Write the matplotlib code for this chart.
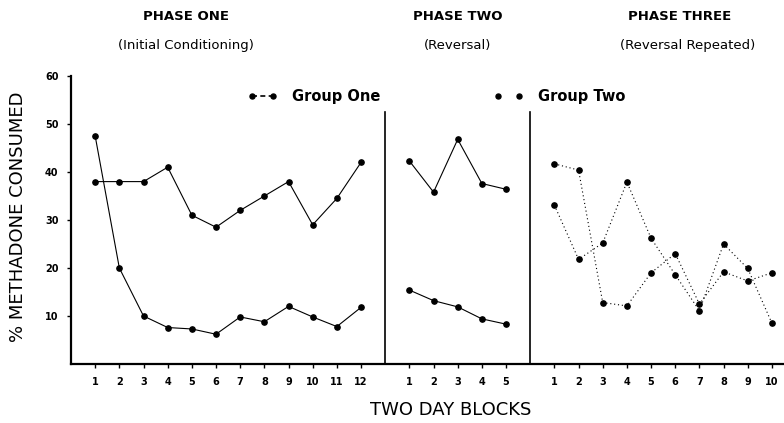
import numpy as np
import matplotlib.pyplot as plt
from matplotlib.lines import Line2D

# % methadone consumed per two-day block
phase1_blocks = np.arange(1, 13)
phase2_blocks = np.arange(1, 6)
phase3_blocks = np.arange(1, 11)

phase1_group_one = [38, 38, 38, 41, 31, 28.5, 32, 35, 38, 29, 34.5, 42]
phase1_group_two = [47.5, 20, 10, 7.6, 7.3, 6.2, 9.8, 8.8, 12, 9.8, 7.8, 11.8]
phase2_group_one = [42.3, 35.8, 46.8, 37.6, 36.4]
phase2_group_two = [15.4, 13.2, 11.9, 9.4, 8.3]
phase3_group_one = [41.7, 40.4, 12.8, 12.1, 19.0, 23.0, 12.5, 19.2, 17.3, 19.0]
phase3_group_two = [33.1, 21.8, 25.2, 37.9, 26.2, 18.6, 11.1, 25.0, 19.9, 8.5]

phase_titles = ["PHASE ONE", "PHASE TWO", "PHASE THREE"]
phase_subtitles = ["(Initial Conditioning)", "(Reversal)", "(Reversal Repeated)"]

# x layout: phases side by side, one empty slot for each divider
x1 = phase1_blocks
x2 = phase2_blocks + len(phase1_blocks) + 1
x3 = phase3_blocks + len(phase1_blocks) + len(phase2_blocks) + 2
dividers = [len(phase1_blocks) + 1, len(phase1_blocks) + len(phase2_blocks) + 2]

fig = plt.figure(figsize=(7.84, 4.23), dpi=100)
ax = fig.add_axes([71 / 784, 1 - 364 / 423, 713 / 784, 288 / 423])

mk = dict(color='k', marker='o', markersize=3.8, linewidth=0.8)
ax.plot(x1, phase1_group_one, linestyle='-', **mk)
ax.plot(x1, phase1_group_two, linestyle='-', **mk)
ax.plot(x2, phase2_group_one, linestyle='-', **mk)
ax.plot(x2, phase2_group_two, linestyle='-', **mk)
ax.plot(x3, phase3_group_one, linestyle=(0, (1, 2.5)), **mk)
ax.plot(x3, phase3_group_two, linestyle=(0, (1, 2.5)), **mk)

for d in dividers:
    ax.plot([d, d], [0, 52.5], color='k', linewidth=1.2)

ax.set_xlim(0, 29.5)
ax.set_ylim(0, 60)
ax.spines['top'].set_visible(False)
ax.spines['right'].set_visible(False)
ax.spines['left'].set_linewidth(1.6)
ax.spines['bottom'].set_linewidth(1.6)

ax.set_yticks([10, 20, 30, 40, 50, 60])
ax.set_yticklabels(['10', '20', '30', '40', '50', '60'], fontsize=7, fontweight='bold')
ticks = np.concatenate([x1, x2, x3])
labels = [str(b) for b in np.concatenate([phase1_blocks, phase2_blocks, phase3_blocks])]
ax.set_xticks(ticks)
ax.set_xticklabels(labels, fontsize=7, fontweight='bold')
ax.tick_params(axis='both', length=3, width=1.0, pad=6)

ax.set_ylabel("% METHADONE CONSUMED", fontsize=13)
ax.yaxis.set_label_coords(-0.062, 0.51)
ax.set_xlabel("TWO DAY BLOCKS", fontsize=13)
ax.xaxis.set_label_coords(0.532, -0.128)

# phase headings
title_x = [186, 458, 680]
sub_x = [186, 458, 688]
for t, s, tx, sx in zip(phase_titles, phase_subtitles, title_x, sub_x):
    fig.text(tx / 784, 1 - 17 / 423, t, ha='center', va='center', fontsize=9.5, fontweight='bold')
    fig.text(sx / 784, 1 - 45 / 423, s, ha='center', va='center', fontsize=9.5)

handles = [
    Line2D([], [], color='k', marker='o', markersize=3.6, linestyle=(0, (3, 2)), linewidth=1.2),
    Line2D([], [], color='k', marker='o', markersize=3.6, linestyle='none'),
]
fig.legend(handles, ["Group One", "Group Two"], loc='center left',
           bbox_to_anchor=(248 / 784, 1 - 97 / 423), ncol=2, frameon=False,
           numpoints=2, handlelength=2.0, handletextpad=1.0, columnspacing=7.8,
           borderpad=0, borderaxespad=0, prop={'size': 10.5, 'weight': 'bold'})

fig.savefig("out.png", dpi=100)
